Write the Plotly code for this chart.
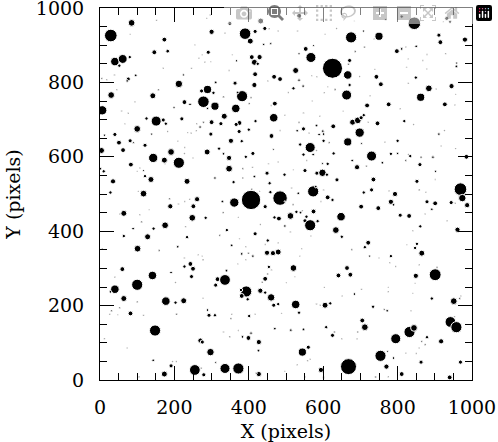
import plotly.graph_objects as go

# Star catalogue: position (image pixels) and apparent diameter (image pixels)
star_x = [
    85,29,300,152,296,287,173,336,81,146,182,291,40,61,80,52,275,266,282,298,255,5,18,39,76,73,96,170,224,246,
    212,289,273,305,311,30,45,142,157,278,227,242,332,309,6,199,289,334,58,76,94,151,125,170,177,220,300,325,278,260,
    269,100,67,182,
    432,535,349,390,417,404,443,455,479,531,675,636,684,605,440,459,553,574,535,567,408,429,415,424,367,356,625,671,668,666,
    347,417,468,484,526,535,546,520,506,451,415,363,569,583,632,612,603,671,663,382,370,406,401,470,460,365,571,547,591,654,
    467,497,418,375,366,400,535,547,530,582,599,627,679,484,
    845,811,768,932,941,923,750,708,911,915,981,711,798,811,822,850,737,686,879,929,868,829,959,958,824,878,739,698,743,755,
    849,829,884,904,945,956,726,862,718,776,807,927,954,693,702,709,721,746,818,843,926,
    698,703,800,911,917,956,766,730,691,782,800,834,829,863,895,822,759,716,860,902,985,735,852,901,969,974,987,709,730,793,
    777,858,876,782,789,879,901,892,944,955,702,748,807,831,874,933,861,841,961,721,712,852,847,825,865,
    40,12,51,81,90,121,139,236,245,259,298,4,62,143,173,191,212,227,228,209,250,288,320,332,1,10,83,107,117,121,
    100,137,175,234,309,35,28,117,329,261,187,211,228,241,189,251,103,64,53,132,107,248,284,331,175,144,112,89,230,64,
    128,234,322,101,209,159,6,
    374,461,352,381,562,589,601,601,616,666,565,538,466,411,392,347,547,556,573,582,628,678,598,347,384,410,453,479,551,583,
    598,610,612,449,496,384,359,415,456,520,637,406,408,484,361,444,458,429,497,515,533,573,580,601,612,625,594,519,469,481,
    512,528,539,555,574,551,565,585,648,497,544,431,372,634,650,417,512,567,341,354,375,451,444,392,479,542,677,449,465,479,
    381,399,
    725,750,782,779,795,858,849,901,906,847,703,775,775,841,892,951,967,970,734,764,772,836,953,705,712,942,958,693,832,844,
    795,879,917,865,874,858,691,754,773,789,822,850,863,969,770,811,741,775,940,
    60,141,100,40,28,191,203,227,243,250,227,246,275,277,264,316,311,336,64,177,203,225,100,277,40,53,31,26,48,82,
    117,206,289,293,309,148,332,12,270,275,73,297,143,195,205,191,311,173,255,272,279,336,105,
    411,537,370,392,340,454,461,520,444,451,436,501,524,393,379,381,431,444,460,397,467,479,526,535,488,582,592,605,619,603,
    651,664,673,641,684,354,352,401,417,470,513,547,608,372,406,399,383,349,427,426,544,560,558,565,625,630,650,372,427,420,
    530,594,601,551,497,668,
]
star_y = [
    960,926,936,967,981,972,915,932,929,881,884,881,856,863,868,845,874,865,854,856,901,811,807,820,809,804,819,838,820,838,
    796,781,777,772,800,766,780,764,780,748,747,741,761,736,725,732,730,709,723,717,748,696,703,699,689,702,693,689,693,689,
    680,675,689,668,
    965,979,959,931,937,911,945,944,938,938,921,945,965,929,902,904,890,899,877,867,868,868,854,850,858,874,838,859,849,820,
    832,822,815,809,832,806,790,784,773,804,793,798,818,815,781,788,772,793,766,763,773,759,743,743,738,730,750,718,709,723,
    705,712,696,691,687,673,693,675,670,684,669,682,693,671,
    959,977,969,972,963,963,924,938,927,908,915,895,884,890,895,897,917,883,875,877,859,863,852,843,841,836,835,816,815,795,
    813,798,784,782,790,768,764,760,738,741,729,741,739,698,705,712,693,690,696,687,671,
    665,636,643,661,629,622,639,602,572,608,609,602,606,599,599,590,584,575,579,561,600,539,534,539,513,489,470,504,511,500,
    509,511,505,479,471,479,475,459,477,475,466,462,443,441,446,428,413,401,404,369,357,366,355,364,341,
    660,658,638,643,638,631,661,665,663,670,661,617,618,597,591,613,584,609,625,642,597,613,622,608,568,561,579,570,563,548,
    561,539,581,534,543,534,504,501,480,486,487,473,480,486,467,467,507,448,446,458,444,436,436,450,416,407,425,407,412,387,
    385,384,389,353,358,348,353,
    668,656,643,642,663,660,661,643,638,640,625,633,620,609,600,597,606,590,606,617,609,590,582,568,568,572,581,586,563,556,
    557,552,581,556,552,543,532,547,529,565,538,484,513,489,477,466,505,507,480,516,502,507,520,511,491,484,480,471,437,434,
    441,452,450,439,453,428,416,427,439,414,455,418,437,403,385,393,398,387,403,362,380,375,364,358,369,353,350,342,341,344,
    339,341,
    333,328,333,315,305,310,280,283,303,260,244,249,237,233,219,212,219,226,197,190,186,186,170,160,142,156,142,129,129,140,
    111,115,104,104,95,86,111,65,77,59,72,71,48,48,36,16,8,9,7,
    298,281,256,244,237,289,262,328,312,299,305,278,333,323,337,271,255,269,219,212,208,213,210,220,276,194,186,177,176,179,
    174,177,188,174,174,133,129,111,106,102,86,75,53,50,50,38,47,16,27,32,14,31,9,
    333,333,312,323,294,304,296,301,272,285,263,262,278,238,242,226,240,235,222,217,201,204,203,181,179,204,201,201,206,249,
    226,301,283,281,231,177,165,172,177,138,134,136,142,133,126,113,116,116,102,79,75,88,52,56,120,129,111,31,16,18,
    41,27,7,9,23,36,
]
star_diam = [
    18,34,14,4,4,3,13,4,3,13,10,11,23,24,9,9,3,4,4,3,3,5,4,4,11,7,7,4,6,4,
    20,22,11,9,7,18,4,16,5,31,13,7,5,22,25,6,6,16,4,4,4,27,9,11,9,11,13,11,5,4,
    7,18,3,4,
    16,13,11,31,11,16,11,4,4,4,30,4,3,3,6,6,13,5,6,27,13,14,16,9,6,3,54,11,5,23,
    4,13,13,13,16,7,7,9,4,4,14,11,3,4,5,3,4,9,27,30,7,5,5,13,4,23,3,4,4,3,
    23,4,9,13,11,9,5,11,7,7,7,13,16,4,
    34,9,6,11,9,4,22,6,11,13,14,5,13,7,4,7,4,5,4,4,4,3,6,7,3,3,4,4,13,13,
    9,4,18,4,14,3,4,22,13,13,4,13,4,18,11,9,4,13,9,4,4,
    25,5,9,7,4,4,4,27,14,9,6,9,4,6,7,5,7,5,11,6,13,13,11,3,34,20,14,9,11,14,
    4,5,4,14,7,11,13,7,11,4,13,13,11,13,4,4,9,4,14,13,9,9,9,3,16,
    11,6,13,11,5,11,6,4,4,4,11,16,13,25,16,18,30,4,4,3,4,16,9,7,7,9,13,4,5,9,
    3,16,3,16,7,14,9,18,7,14,5,4,4,4,14,13,3,16,4,3,4,18,9,5,18,9,5,7,4,9,
    16,9,5,18,7,5,4,
    11,13,14,9,4,7,7,9,5,22,27,9,5,11,9,14,9,4,7,4,9,7,5,18,5,4,4,4,11,11,
    20,9,9,11,9,5,9,7,9,3,11,52,5,39,25,11,9,3,4,4,7,30,7,4,13,9,4,5,9,13,
    18,9,7,9,13,11,30,9,23,7,4,4,3,18,9,11,4,4,9,7,3,9,4,4,3,3,5,14,14,16,
    7,5,
    6,4,9,4,4,4,14,32,5,3,4,3,4,3,9,18,5,4,9,5,7,4,4,13,18,29,30,5,30,18,
    27,9,14,5,5,4,4,30,5,7,3,4,11,11,14,13,5,4,13,
    13,23,30,23,7,7,4,4,13,13,9,11,3,5,3,13,11,29,16,23,9,16,5,4,4,5,5,4,3,13,
    4,5,7,11,9,30,4,4,14,11,4,20,7,4,4,11,5,16,29,5,11,27,4,
    7,4,3,4,7,9,4,18,13,5,5,3,3,30,9,13,14,9,20,9,11,9,23,9,3,4,4,16,9,4,
    4,13,13,13,7,4,5,9,4,7,7,7,9,3,7,13,7,5,14,7,22,11,4,4,11,5,4,30,14,5,
    4,14,5,4,3,43,
]

x_ticks = [0, 200, 400, 600, 800, 1000]
y_ticks = [0, 200, 400, 600, 800, 1000]

W, H = 498, 442
ML, MR, MT, MB = 100, 26, 8, 62
px_per_unit = (W - ML - MR) / 1000.0
marker_px = [max(1.3, d * px_per_unit) for d in star_diam]

FONT = "DejaVu Serif"
tfont = dict(family=FONT, size=19, color="black")

fig = go.Figure(go.Scatter(x=star_x, y=star_y, mode="markers",
                           marker=dict(size=marker_px, color="black", opacity=1)))

common = dict(range=[0, 1000], showline=True, linecolor="black", linewidth=1, mirror="ticks",
              ticks="inside", ticklen=14, tickwidth=1, tickcolor="black",
              showgrid=False, zeroline=False, automargin=False,
              tickmode="array", tickfont=tfont, ticklabeloverflow="allow",
              minor=dict(dtick=50, ticks="inside", ticklen=7, tickwidth=1, tickcolor="black"))

fig.update_xaxes(**common, tickvals=x_ticks, ticktext=[str(v) for v in x_ticks],
                 ticklabelstandoff=10,
                 title=dict(text="X (pixels)", font=tfont, standoff=8))
fig.update_yaxes(**common, tickvals=y_ticks, ticktext=[str(v) for v in y_ticks],
                 ticklabelstandoff=11,
                 title=dict(text="Y (pixels)", font=tfont, standoff=10))

fig.update_layout(template="none", width=W, height=H, autosize=False,
                  margin=dict(l=ML, r=MR, t=MT, b=MB), plot_bgcolor="white",
                  showlegend=False)

fig.write_html("out.html")
with open("out.html", encoding="utf-8") as fh:
    page = fh.read()
page = page.replace("<head>", "<head><style>html,body{margin:0;padding:0;}</style>", 1)
with open("out.html", "w", encoding="utf-8") as fh:
    fh.write(page)
